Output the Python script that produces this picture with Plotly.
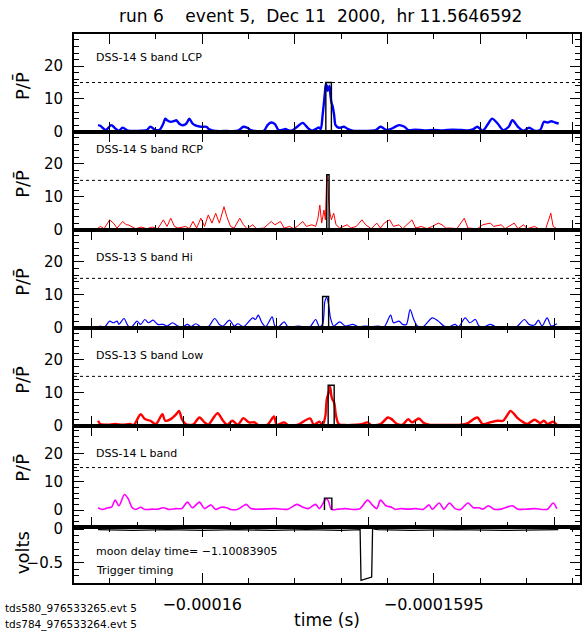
import plotly.graph_objects as go

# ---------------- data (time offsets in ns from T0) -------------
T0 = -1.6e-4          # seconds
NS = 1e-9

LCP = [(-225,2.0),(-220,1.8),(-216,1.3),(-208,0.5),(-197,2.0),(-192,1.6),(-188,1.0),(-180,0.3),(-172,1.2),
       (-160,0.3),(-144,0.2),(-132,0.3),(-120,0.5),(-112,1.5),(-101,0.5),(-92,0.6),(-84,2.5),(-80,4.0),
       (-76,3.5),(-68,3.0),(-60,3.3),(-56,3.5),(-50,2.5),(-44,2.0),(-36,2.3),(-32,3.0),(-28,4.0),(-21,2.5),
       (-16,2.0),(-3,1.5),(9,1.5),(14,0.8),(21,0.4),(29,0.2),(53,0.2),(77,0.3),(89,1.5),(97,1.2),(105,0.5),
       (113,0.2),(133,0.3),(141,2.0),(149,2.8),(157,2.3),(165,0.5),(181,0.8),(185,0.5),(193,0.3),(205,1.5),
       (217,2.7),(229,1.0),(237,0.3),(245,0.8),(252,1.3),(256,0.8),(260,5.0),(263,9.0),(265,12.0),
       (267,14.5),(269,14.0),(271,12.5),(273,13.0),(275,14.0),(277,11.0),(279,9.0),(282,7.5),(285,5.0),
       (288,2.0),(295,1.2),(306,1.5),(315,0.8),(325,0.3),(345,0.2),(365,0.3),(375,0.5),(385,1.5),(392,1.0),
       (396,0.6),(405,0.7),(413,1.2),(425,2.0),(437,1.5),(445,0.5),(460,0.6),(480,0.4),(500,0.5),(520,0.4),
       (540,0.6),(560,0.5),(575,0.4),(586,0.8),(594,1.5),(606,0.3),(618,2.5),(626,4.0),(638,2.5),(650,0.5),
       (662,1.5),(670,3.5),(682,1.5),(694,0.3),(706,1.2),(718,0.3),(730,0.5),(738,3.0),(746,2.8),(754,3.2),
       (762,2.8),(770,2.5)]

RCP = [(-225,0.5),(-220,1.0),(-212,0.3),(-200,3.0),(-192,2.0),(-184,0.5),(-172,2.5),(-164,1.5),(-160,1.5),
       (-152,1.0),(-144,0.3),(-132,0.8),(-120,0.3),(-108,0.8),(-96,0.3),(-84,3.0),(-76,1.0),(-68,3.5),
       (-60,1.0),(-52,0.5),(-36,1.0),(-28,0.3),(-20,2.5),(-12,0.5),(-3,3.5),(5,1.0),(13,4.5),(21,2.0),
       (29,5.0),(37,2.0),(47,7.0),(53,4.0),(61,1.0),(69,0.5),(81,3.5),(89,1.5),(97,0.3),(109,1.5),(117,0.3),
       (133,0.5),(149,2.5),(157,1.5),(169,2.5),(177,0.5),(189,1.0),(197,0.3),(205,1.0),(217,2.5),(225,1.0),
       (237,1.5),(245,1.0),(250,3.5),(254,7.5),(258,2.0),(263,6.0),(266,3.0),(269,16.5),(271,16.0),
       (273,9.0),(276,5.0),(279,3.0),(284,5.0),(289,1.5),(297,0.5),(313,1.5),(321,0.5),(333,1.0),(345,3.0),
       (353,1.5),(365,0.3),(377,2.0),(385,0.5),(393,2.0),(405,3.0),(413,1.0),(425,1.5),(433,0.3),(453,3.0),
       (461,0.5),(473,1.0),(485,0.3),(497,1.0),(510,2.0),(518,1.5),(526,0.5),(538,0.5),(550,0.3),(566,3.5),
       (574,0.5),(594,0.3),(606,1.5),(622,2.0),(630,1.0),(646,1.5),(654,0.3),(674,2.0),(682,0.3),(694,1.5),
       (702,0.3),(718,1.0),(726,0.3),(742,0.3),(753,5.0),(758,1.0),(766,0.3)]

HI = [(-225,0.0),(-220,0.5),(-212,0.0),(-200,2.0),(-192,1.5),(-184,2.0),(-180,1.0),(-169,2.8),(-160,0.5),
      (-152,0.3),(-141,2.0),(-133,1.0),(-124,2.5),(-116,1.5),(-106,2.3),(-96,1.0),(-84,1.0),(-76,0.5),
      (-64,1.5),(-53,0.5),(-42,0.3),(-32,1.0),(-24,0.3),(-14,1.2),(-3,0.3),(13,0.3),(27,2.8),(37,1.0),
      (45,0.5),(59,2.3),(69,0.5),(77,1.2),(89,0.3),(109,3.0),(115,2.5),(121,3.8),(129,1.5),(137,0.3),
      (151,3.3),(157,0.5),(165,0.3),(177,1.8),(185,0.3),(197,0.3),(209,0.5),(221,0.2),(233,0.3),(245,2.5),
      (253,0.3),(260,1.0),(265,8.0),(269,9.2),(273,7.0),(277,3.0),(284,0.5),(297,1.8),(309,0.5),(325,1.0),
      (337,0.3),(353,0.5),(365,0.3),(381,0.5),(393,0.3),(407,3.8),(413,1.5),(425,2.0),(433,1.0),(441,1.0),
      (449,5.5),(457,2.5),(465,0.5),(477,0.3),(497,3.0),(510,2.0),(522,0.5),(534,0.3),(546,1.0),(554,0.3),
      (568,3.0),(578,1.5),(590,2.5),(598,0.5),(610,0.3),(622,1.0),(634,0.3),(646,0.2),(678,0.2),(696,2.5),
      (706,1.0),(718,0.8),(726,2.3),(734,0.5),(745,3.0),(754,0.5),(766,1.2)]

LOW = [(-225,1.5),(-220,0.5),(-204,0.3),(-188,0.5),(-172,0.3),(-156,0.5),(-148,0.2),(-133,3.5),(-124,2.0),
       (-112,1.5),(-100,0.5),(-86,3.5),(-80,1.5),(-68,2.0),(-56,3.5),(-50,4.5),(-44,2.0),(-36,0.5),(-20,0.3),
       (-6,2.5),(5,1.0),(13,0.3),(33,3.8),(45,1.5),(54,0.3),(65,1.5),(77,0.3),(89,2.3),(101,1.0),(113,1.0),
       (121,0.2),(141,0.3),(155,2.8),(161,0.3),(177,1.0),(185,0.2),(205,0.2),(233,2.2),(241,0.3),(253,1.2),
       (260,0.2),(266,3.0),(269,8.0),(273,10.0),(276,12.0),(279,9.0),(281,8.0),(285,7.0),(289,3.0),
       (295,0.5),(309,0.2),(333,0.3),(345,0.5),(357,1.0),(365,0.2),(385,0.5),(401,2.5),(409,2.0),(421,0.5),
       (433,0.3),(445,2.0),(453,1.0),(468,2.2),(477,1.0),(490,0.3),(510,0.2),(526,0.2),(558,0.3),(574,0.8),
       (594,2.5),(606,0.5),(622,1.0),(638,1.5),(650,1.5),(658,3.0),(666,4.5),(674,3.5),(682,2.2),(694,1.0),
       (702,0.5),(718,1.8),(730,0.8),(738,1.5),(746,0.5),(758,1.2),(766,0.3)]

LBAND = [(-225,0.8),(-216,0.2),(-204,0.8),(-196,1.0),(-188,3.5),(-180,1.5),(-168,5.5),(-160,4.0),(-152,1.0),
         (-144,0.2),(-133,1.0),(-124,0.2),(-108,0.3),(-96,0.3),(-84,0.8),(-72,0.2),(-56,0.5),(-44,0.5),
         (-32,2.8),(-21,0.8),(-6,2.8),(5,0.5),(19,1.8),(29,0.2),(41,1.0),(53,0.8),(61,0.2),(77,0.3),(95,2.0),
         (105,0.5),(125,0.3),(157,0.5),(185,0.3),(205,2.0),(217,1.0),(229,0.5),(245,2.0),(253,0.5),(265,3.5),
         (269,4.0),(273,3.0),(279,0.2),(293,0.3),(309,0.5),(325,0.2),(341,0.5),(357,3.5),(369,1.5),(377,0.5),
         (385,3.5),(397,1.5),(409,1.0),(417,0.2),(429,0.5),(445,0.3),(461,0.5),(477,0.2),(490,1.8),(497,0.3),
         (512,2.5),(522,0.3),(534,2.5),(546,0.5),(558,0.2),(574,2.5),(586,0.8),(598,0.8),(606,0.3),(618,1.5),
         (630,0.3),(646,0.3),(670,1.5),(682,0.3),(702,0.3),(718,0.5),(734,0.2),(746,0.3),(758,2.5),(766,0.5)]

TRIG = [(-225,-0.01),(-150,-0.02),(-75,-0.01),(0,-0.02),(75,-0.01),(150,-0.02),(225,-0.01),(300,-0.02),
        (341,-0.01),(343,-0.77),(348,-0.76),(355,-0.74),(362,-0.73),(366,-0.72),(368,0.02),(372,0.0),
        (380,-0.01),(450,-0.02),(550,-0.01),(650,-0.02),(769,-0.01)]

# boxes around the candidate pulse (ns start, ns end, height)
BOX_T0 = [267, 269, 260, 272, 264]
BOX_T1 = [279, 274, 273, 285, 280]
BOX_TOP = [15.0, 16.7, 9.5, 12.3, 4.2]
THRESH = 15

LABELS = ["DSS-14 S band LCP", "DSS-14 S band RCP", "DSS-13 S band Hi", "DSS-13 S band Low", "DSS-14 L band"]
COLORS = ["#0000ff", "#ff0000", "#0000ff", "#ff0000", "#ff00ff"]
WIDTHS = [2.4, 1.0, 1.2, 2.4, 1.6]
SHAPES = ["spline", "linear", "spline", "spline", "spline"]
SERIES = [LCP, RCP, HI, LOW, LBAND]

TITLE = "run 6\u00a0\u00a0\u00a0 event 5,\u00a0 Dec 11\u00a0 2000,\u00a0 hr 11.5646592"
XTICK_TEXT = ["\u22120.00016", "\u22120.0001595"]
XTICK_NS = [0, 500]

# ---------------- layout geometry ----------------
W, H = 584, 632
ML, MR, MT, MB = 74, 2, 34, 49
PH = H - MT - MB
PW = W - ML - MR
BOUNDS = [34, 131.7, 229.7, 327.7, 425.7, 526.7, 583]   # panel edges in px from top
YR = [[0, 29.8]] * 4 + [[-5.9, 29.8], [-0.81, 0.035]]
XR = [T0 - 277 * NS, T0 + 816 * NS]
TICK_OFF = [0, 0, -40, -40, -40]     # ns offset of major x ticks per panel
FONT = "DejaVu Sans"


def py(p):
    return (H - MB - p) / PH


def px(p):
    return (p - ML) / PW


def tsec(ns):
    return T0 + ns * NS


fig = go.Figure()
layout = {}
shapes = []
annots = []

for i in range(6):
    n = i + 1
    xa = "x" if n == 1 else f"x{n}"
    ya = "y" if n == 1 else f"y{n}"
    xk = "xaxis" if n == 1 else f"xaxis{n}"
    yk = "yaxis" if n == 1 else f"yaxis{n}"
    dom = [py(BOUNDS[i + 1]), py(BOUNDS[i])]
    common = dict(showline=True, linecolor="black", linewidth=2, mirror="ticks", ticks="inside",
                  tickcolor="black", showgrid=False, zeroline=False, fixedrange=True)
    if i < 5:
        xaxis = dict(common, domain=[0, 1], anchor=ya, range=XR, showticklabels=False,
                     tick0=tsec(TICK_OFF[i]), dtick=200 * NS, ticklen=10, tickwidth=1,
                     minor=dict(ticks="inside", tick0=tsec(TICK_OFF[i]), dtick=100 * NS, ticklen=5,
                                tickcolor="black", tickwidth=1))
        yaxis = dict(common, domain=dom, anchor=xa, range=YR[i], tickmode="array", tickvals=[0, 10, 20],
                     ticklen=10, tickwidth=1, ticklabelstandoff=6,
                     tickfont=dict(family=FONT, size=15, color="black"),
                     minor=dict(ticks="inside", tick0=0, dtick=2, ticklen=5, tickcolor="black", tickwidth=1))
    else:
        xaxis = dict(common, domain=[0, 1], anchor=ya, range=XR, tickmode="array",
                     tickvals=[tsec(v) for v in XTICK_NS], ticktext=XTICK_TEXT, ticklen=10, tickwidth=1,
                     ticklabelstandoff=6, tickfont=dict(family=FONT, size=16, color="black"),
                     minor=dict(ticks="inside", tick0=T0, dtick=100 * NS, ticklen=5, tickcolor="black",
                                tickwidth=1))
        yaxis = dict(common, domain=dom, anchor=xa, range=YR[i], tickmode="array", tickvals=[0, -0.5],
                     ticktext=["0", "\u22120.5"], ticklen=10, tickwidth=1, ticklabelstandoff=6,
                     tickfont=dict(family=FONT, size=15, color="black"),
                     minor=dict(ticks="inside", tick0=0, dtick=0.1, ticklen=5, tickcolor="black", tickwidth=1))
    layout[xk] = xaxis
    layout[yk] = yaxis

    if i < 5:
        ts, vs = zip(*SERIES[i])
        fig.add_trace(go.Scatter(x=[tsec(t) for t in ts], y=list(vs), mode="lines", xaxis=xa, yaxis=ya,
                                 line=dict(color=COLORS[i], width=WIDTHS[i], shape=SHAPES[i], smoothing=0.8),
                                 showlegend=False, hoverinfo="skip"))
        b0, b1 = tsec(BOX_T0[i]), tsec(BOX_T1[i])
        fig.add_trace(go.Scatter(x=[b0, b0, b1, b1], y=[0, BOX_TOP[i], BOX_TOP[i], 0], mode="lines",
                                 xaxis=xa, yaxis=ya, line=dict(color="black", width=1.4),
                                 showlegend=False, hoverinfo="skip"))
        shapes.append(dict(type="line", xref=f"{xa} domain", yref=ya, x0=0, x1=1, y0=THRESH, y1=THRESH,
                           line=dict(color="black", width=1, dash="dot")))
        annots.append(dict(text="P/P\u0304", textangle=-90, xref="paper", x=px(22), yref=ya,
                           y=14 if i < 4 else 15, showarrow=False, xanchor="center", yanchor="middle",
                           font=dict(family=FONT, size=18, color="black")))
    else:
        ts, vs = zip(*TRIG)
        fig.add_trace(go.Scatter(x=[tsec(t) for t in ts], y=list(vs), mode="lines", xaxis=xa, yaxis=ya,
                                 line=dict(color="black", width=1.3), showlegend=False, hoverinfo="skip"))
        annots.append(dict(text="volts", textangle=-90, xref="paper", x=px(22), yref=ya, y=-0.36,
                           showarrow=False, xanchor="center", yanchor="middle",
                           font=dict(family=FONT, size=18, color="black")))

LABEL_Y = [57, 149, 257, 355, 453]
for lab, ly in zip(LABELS, LABEL_Y):
    annots.append(dict(text=lab, xref="paper", yref="paper", x=px(94), y=py(ly), xanchor="left",
                       yanchor="middle", showarrow=False, font=dict(family=FONT, size=11, color="black")))
for txt, ly in [("moon delay time= \u22121.10083905", 551), ("Trigger timing", 570)]:
    annots.append(dict(text=txt, xref="paper", yref="paper", x=px(94), y=py(ly), xanchor="left",
                       yanchor="middle", showarrow=False, font=dict(family=FONT, size=11, color="black")))
for txt, ly in [("tds580_976533265.evt 5", 608), ("tds784_976533264.evt 5", 624)]:
    annots.append(dict(text=txt, xref="paper", yref="paper", x=px(3), y=py(ly), xanchor="left",
                       yanchor="middle", showarrow=False, font=dict(family=FONT, size=10.5, color="black")))
annots.append(dict(text="time (s)", xref="paper", yref="paper", x=0.5, y=py(620), xanchor="center",
                   yanchor="middle", showarrow=False, font=dict(family=FONT, size=17, color="black")))
annots.append(dict(text=TITLE, xref="paper", yref="paper", x=px(321), y=py(16), xanchor="center",
                   yanchor="middle", showarrow=False, font=dict(family=FONT, size=17, color="black")))

fig.update_layout(width=W, height=H, margin=dict(l=ML, r=MR, t=MT, b=MB, pad=0),
                  paper_bgcolor="white", plot_bgcolor="white", shapes=shapes, annotations=annots,
                  showlegend=False, **layout)
fig.write_html("out.html", config={"displayModeBar": False},
               post_script="document.body.style.margin='0';document.body.style.overflow='hidden';")
